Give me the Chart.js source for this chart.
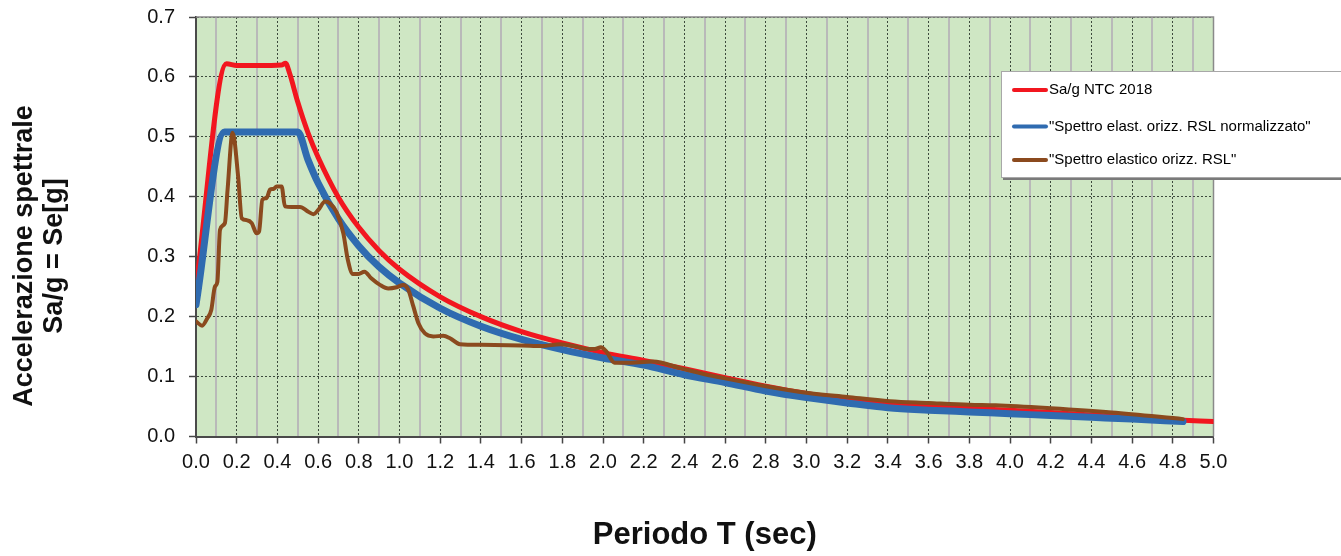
<!DOCTYPE html>
<html>
<head>
<meta charset="utf-8">
<script src="https://cdn.jsdelivr.net/npm/chart.js@4.4.1/dist/chart.umd.min.js"></script>
<style>
  body { margin: 0; background: #ffffff; }
  #wrap { width: 1341px; height: 556px; position: relative; }
</style>
</head>
<body>
<div id="wrap"><canvas id="spettro"></canvas></div>
<script>
// periodi (sec) e ordinate Sa/g
let ntcT = [0, 0.15, 0.2, 0.3, 0.42, 0.44, 0.46, 0.5, 0.55, 0.6, 0.7, 0.8, 0.9, 1.0, 1.2, 1.4, 1.6, 1.8, 2.0, 2.2, 2.4, 2.6, 2.8, 3.0, 3.2, 3.4, 3.6, 3.8, 4.0, 4.2, 4.4, 4.6, 4.8, 5.0];
let ntcSa = [0.25, 0.622, 0.619, 0.619, 0.620, 0.623, 0.606, 0.558, 0.507, 0.466, 0.399, 0.349, 0.310, 0.279, 0.233, 0.200, 0.175, 0.156, 0.140, 0.127, 0.113, 0.098, 0.084, 0.072, 0.063, 0.055, 0.050, 0.047, 0.044, 0.040, 0.036, 0.032, 0.028, 0.025];

let normT = [0, 0.14, 0.5, 0.55, 0.6, 0.7, 0.8, 0.9, 1.0, 1.2, 1.4, 1.6, 1.8, 2.0, 2.2, 2.4, 2.6, 2.8, 3.0, 3.2, 3.4, 3.6, 3.8, 4.0, 4.2, 4.4, 4.6, 4.85];
let normSa = [0.220, 0.508, 0.508, 0.462, 0.423, 0.363, 0.318, 0.283, 0.256, 0.214, 0.184, 0.162, 0.145, 0.131, 0.119, 0.103, 0.090, 0.076, 0.065, 0.056, 0.048, 0.044, 0.041, 0.038, 0.035, 0.032, 0.029, 0.025];

let rslT = [0.00, 0.03, 0.055, 0.075, 0.093, 0.105, 0.118, 0.142, 0.155, 0.180, 0.207, 0.225, 0.250, 0.274, 0.298, 0.310, 0.326, 0.347, 0.364, 0.380, 0.396, 0.421, 0.437, 0.470, 0.511, 0.552, 0.577, 0.601, 0.634, 0.658, 0.691, 0.724, 0.746, 0.771, 0.795, 0.828, 0.861, 0.904, 0.945, 0.986, 1.019, 1.043, 1.068, 1.093, 1.125, 1.166, 1.215, 1.248, 1.297, 1.40, 1.60, 1.70, 1.79, 1.87, 1.92, 1.96, 1.99, 2.016, 2.057, 2.114, 2.247, 2.38, 2.50, 2.60, 2.80, 3.00, 3.20, 3.41, 3.60, 3.80, 3.93, 4.20, 4.50, 4.85];
let rslSa = [0.192, 0.185, 0.197, 0.211, 0.250, 0.258, 0.345, 0.356, 0.411, 0.507, 0.434, 0.364, 0.361, 0.356, 0.339, 0.342, 0.395, 0.398, 0.412, 0.413, 0.417, 0.417, 0.384, 0.383, 0.383, 0.375, 0.371, 0.378, 0.392, 0.389, 0.374, 0.339, 0.295, 0.271, 0.271, 0.275, 0.264, 0.253, 0.247, 0.249, 0.253, 0.245, 0.217, 0.189, 0.172, 0.167, 0.168, 0.164, 0.154, 0.153, 0.152, 0.151, 0.154, 0.150, 0.146, 0.146, 0.149, 0.142, 0.123, 0.123, 0.125, 0.114, 0.104, 0.097, 0.084, 0.073, 0.066, 0.059, 0.056, 0.053, 0.052, 0.047, 0.040, 0.029];

let seriesNames = ['Sa/g NTC 2018', '"Spettro elast. orizz. RSL normalizzato"', '"Spettro elastico orizz. RSL"'];
let seriesColors = ['#f2161f', '#2f6bb0', '#8b4a1e'];
let yTitle = ['Accelerazione spettrale', 'Sa/g = Se[g]'];
let xTitle = 'Periodo T (sec)';

function toPoints(t, s) {
    return t.map((v, i) => ({ x: v, y: s[i] }));
}

const plotDecor = {
    id: 'plotDecor',
    beforeDraw(chart) {
        let { ctx, chartArea: a } = chart;
        ctx.save();
        ctx.fillStyle = '#cfe7c4';
        ctx.fillRect(a.left, a.top, a.right - a.left, a.bottom - a.top);
        ctx.restore();
    },
    beforeDatasetsDraw(chart) {
        let { ctx, chartArea: a } = chart;
        ctx.save();
        ctx.strokeStyle = '#8a8a8a';
        ctx.lineWidth = 1.5;
        ctx.beginPath();
        ctx.moveTo(a.left, a.top);
        ctx.lineTo(a.right, a.top);
        ctx.lineTo(a.right, a.bottom);
        ctx.stroke();
        ctx.restore();
    },
    afterDraw(chart) {
        let ctx = chart.ctx;
        // titolo asse y
        ctx.save();
        ctx.translate(25, 256);
        ctx.rotate(-Math.PI / 2);
        ctx.font = 'bold 27px "Liberation Sans", Arial, sans-serif';
        ctx.fillStyle = '#111';
        ctx.textAlign = 'center';
        ctx.textBaseline = 'middle';
        ctx.fillText(yTitle[0], 0, 0);
        ctx.fillText(yTitle[1], 0, 30);
        ctx.restore();

        // legenda
        let lx = 1001, ly = 71, lw = 345, lh = 106;
        ctx.save();
        ctx.fillStyle = '#7a7a7a';
        ctx.fillRect(lx + 2, ly + 3, lw, lh);
        ctx.fillStyle = '#ffffff';
        ctx.fillRect(lx, ly, lw, lh);
        ctx.strokeStyle = '#a8a8a8';
        ctx.lineWidth = 1;
        ctx.strokeRect(lx + 0.5, ly + 0.5, lw, lh);
        let rows = [90, 126.5, 160];
        ctx.font = '15px "Liberation Sans", Arial, sans-serif';
        ctx.textBaseline = 'middle';
        chart.data.datasets.forEach((ds, i) => {
            ctx.strokeStyle = ds.borderColor;
            ctx.lineWidth = 4;
            ctx.lineCap = 'round';
            ctx.beginPath();
            ctx.moveTo(1014, rows[i]);
            ctx.lineTo(1046, rows[i]);
            ctx.stroke();
            ctx.fillStyle = '#000';
            ctx.fillText(ds.label, 1049, rows[i]);
        });
        ctx.restore();
    }
};

let ctx = document.getElementById('spettro');
let chart = new Chart(ctx, {
    type: 'line',
    data: {
        datasets: [
            {
                label: seriesNames[0],
                data: toPoints(ntcT, ntcSa),
                borderColor: seriesColors[0],
                borderWidth: 5,
                order: 2
            },
            {
                label: seriesNames[1],
                data: toPoints(normT, normSa),
                borderColor: seriesColors[1],
                borderWidth: 7,
                order: 1
            },
            {
                label: seriesNames[2],
                data: toPoints(rslT, rslSa),
                borderColor: seriesColors[2],
                borderWidth: 4,
                order: 0
            }
        ]
    },
    options: {
        responsive: true,
        maintainAspectRatio: false,
        animation: false,
        devicePixelRatio: 1,
        layout: { padding: { top: 17, right: 127.5, bottom: 0, left: 0 } },
        elements: {
            point: { radius: 0, hoverRadius: 0 },
            line: { cubicInterpolationMode: 'monotone', fill: false, borderCapStyle: 'round', borderJoinStyle: 'round' }
        },
        plugins: {
            legend: { display: false },
            tooltip: { enabled: false }
        },
        scales: {
            x: {
                type: 'linear',
                min: 0,
                max: 5,
                afterFit: (s) => { s.height = 119.5; },
                ticks: {
                    stepSize: 0.1,
                    autoSkip: false,
                    maxRotation: 0,
                    padding: 7,
                    color: '#111',
                    font: { family: '"Liberation Sans", Arial, sans-serif', size: 20 },
                    callback: (v, i) => (i % 2 === 0 ? Number(v).toFixed(1) : '')
                },
                grid: {
                    color: (c) => (c.index % 2 === 0 ? '#3d4a3d' : '#b9b9b9'),
                    lineWidth: (c) => (c.index % 2 === 0 ? 1 : 2),
                    tickColor: (c) => (c.index % 2 === 0 ? '#444' : 'rgba(0,0,0,0)'),
                    tickLength: 7,
                    tickWidth: 1.5
                },
                border: {
                    color: '#4a4a4a',
                    width: 2,
                    dash: (c) => (c.type === 'tick' && c.index % 2 === 0 ? [2, 2] : [])
                },
                title: {
                    display: true,
                    text: xTitle,
                    color: '#111',
                    font: { family: '"Liberation Sans", Arial, sans-serif', size: 31, weight: 'bold' },
                    padding: { top: 0, bottom: 2 }
                }
            },
            y: {
                type: 'linear',
                min: 0,
                max: 0.7,
                afterFit: (s) => { s.width = 196; s.paddingTop = 0; s.paddingBottom = 0; },
                ticks: {
                    stepSize: 0.1,
                    padding: 14,
                    color: '#111',
                    font: { family: '"Liberation Sans", Arial, sans-serif', size: 20 },
                    callback: (v) => Number(v).toFixed(1)
                },
                grid: {
                    color: '#3d4a3d',
                    lineWidth: 1,
                    tickColor: '#444',
                    tickLength: 7,
                    tickWidth: 1.5
                },
                border: {
                    color: '#4a4a4a',
                    width: 2,
                    dash: (c) => (c.type === 'tick' ? [2, 2] : [])
                }
            }
        }
    },
    plugins: [plotDecor]
});
</script>
</body>
</html>
